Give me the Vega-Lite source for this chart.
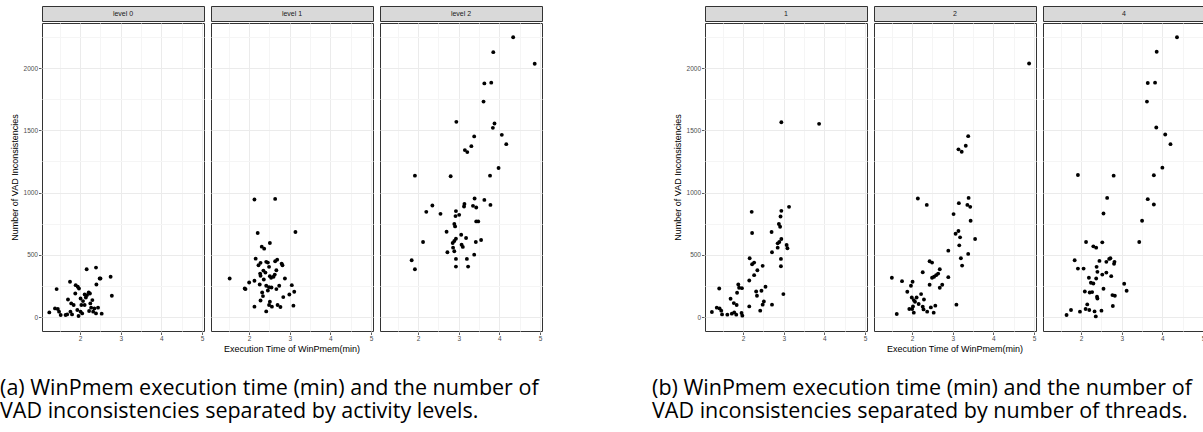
{
  "$schema": "https://vega.github.io/schema/vega-lite/v6.json",
  "background": "white",
  "padding": {"left": 0, "top": 5, "right": 0, "bottom": 0},
  "autosize": {"type": "pad"},
  "datasets": {
    "stripA": [{"panel": "level 0"}, {"panel": "level 1"}, {"panel": "level 2"}],
    "stripB": [{"panel": "1"}, {"panel": "2"}, {"panel": "4"}],
    "a": [
      {"panel":"level 0","time":1.24,"vad":37},{"panel":"level 0","time":1.42,"vad":224},{"panel":"level 0","time":1.38,"vad":69},{"panel":"level 0","time":1.45,"vad":64},{"panel":"level 0","time":1.48,"vad":43},{"panel":"level 0","time":1.52,"vad":16},{"panel":"level 0","time":1.64,"vad":16},{"panel":"level 0","time":1.68,"vad":21},{"panel":"level 0","time":1.70,"vad":141},{"panel":"level 0","time":1.75,"vad":283},{"panel":"level 0","time":1.78,"vad":109},{"panel":"level 0","time":1.76,"vad":43},{"panel":"level 0","time":1.80,"vad":21},{"panel":"level 0","time":1.84,"vad":96},{"panel":"level 0","time":1.88,"vad":189},{"panel":"level 0","time":1.89,"vad":256},{"panel":"level 0","time":1.94,"vad":243},{"panel":"level 0","time":1.97,"vad":229},{"panel":"level 0","time":1.93,"vad":56},{"panel":"level 0","time":1.96,"vad":8},{"panel":"level 0","time":2.01,"vad":43},{"panel":"level 0","time":2.01,"vad":149},{"panel":"level 0","time":2.03,"vad":96},{"panel":"level 0","time":2.07,"vad":128},{"panel":"level 0","time":2.05,"vad":29},{"panel":"level 0","time":2.11,"vad":181},{"panel":"level 0","time":2.11,"vad":96},{"panel":"level 0","time":2.14,"vad":157},{"panel":"level 0","time":2.16,"vad":384},{"panel":"level 0","time":2.17,"vad":176},{"panel":"level 0","time":2.21,"vad":197},{"panel":"level 0","time":2.24,"vad":189},{"panel":"level 0","time":2.22,"vad":48},{"panel":"level 0","time":2.27,"vad":75},{"panel":"level 0","time":2.30,"vad":136},{"panel":"level 0","time":2.32,"vad":43},{"panel":"level 0","time":2.35,"vad":69},{"panel":"level 0","time":2.39,"vad":29},{"panel":"level 0","time":2.39,"vad":397},{"panel":"level 0","time":2.40,"vad":261},{"panel":"level 0","time":2.44,"vad":75},{"panel":"level 0","time":2.48,"vad":309},{"panel":"level 0","time":2.50,"vad":309},{"panel":"level 0","time":2.53,"vad":27},{"panel":"level 0","time":2.75,"vad":323},{"panel":"level 0","time":2.78,"vad":171},{"panel":"level 0","time":2.25,"vad":109},
      {"panel":"level 1","time":2.13,"vad":944},{"panel":"level 1","time":2.64,"vad":949},{"panel":"level 1","time":2.21,"vad":675},{"panel":"level 1","time":3.14,"vad":683},{"panel":"level 1","time":2.51,"vad":595},{"panel":"level 1","time":2.31,"vad":565},{"panel":"level 1","time":2.37,"vad":549},{"panel":"level 1","time":2.16,"vad":469},{"panel":"level 1","time":2.23,"vad":416},{"panel":"level 1","time":2.28,"vad":435},{"panel":"level 1","time":2.42,"vad":443},{"panel":"level 1","time":2.46,"vad":437},{"panel":"level 1","time":2.49,"vad":403},{"panel":"level 1","time":2.64,"vad":448},{"panel":"level 1","time":2.69,"vad":461},{"panel":"level 1","time":2.80,"vad":429},{"panel":"level 1","time":2.82,"vad":416},{"panel":"level 1","time":2.27,"vad":349},{"panel":"level 1","time":2.35,"vad":373},{"panel":"level 1","time":2.40,"vad":357},{"panel":"level 1","time":2.28,"vad":331},{"panel":"level 1","time":2.63,"vad":341},{"panel":"level 1","time":2.67,"vad":376},{"panel":"level 1","time":2.51,"vad":328},{"panel":"level 1","time":2.54,"vad":315},{"panel":"level 1","time":2.60,"vad":323},{"panel":"level 1","time":2.36,"vad":301},{"panel":"level 1","time":2.88,"vad":309},{"panel":"level 1","time":1.52,"vad":309},{"panel":"level 1","time":2.00,"vad":277},{"panel":"level 1","time":2.13,"vad":291},{"panel":"level 1","time":2.26,"vad":261},{"panel":"level 1","time":1.89,"vad":229},{"panel":"level 1","time":1.91,"vad":224},{"panel":"level 1","time":2.42,"vad":251},{"panel":"level 1","time":2.49,"vad":240},{"panel":"level 1","time":2.55,"vad":237},{"panel":"level 1","time":2.67,"vad":224},{"panel":"level 1","time":2.74,"vad":251},{"panel":"level 1","time":2.46,"vad":213},{"panel":"level 1","time":2.32,"vad":197},{"panel":"level 1","time":2.34,"vad":168},{"panel":"level 1","time":3.05,"vad":256},{"panel":"level 1","time":3.11,"vad":203},{"panel":"level 1","time":2.99,"vad":181},{"panel":"level 1","time":2.84,"vad":160},{"panel":"level 1","time":2.28,"vad":133},{"panel":"level 1","time":2.51,"vad":123},{"panel":"level 1","time":2.13,"vad":83},{"panel":"level 1","time":2.49,"vad":96},{"panel":"level 1","time":2.56,"vad":83},{"panel":"level 1","time":2.70,"vad":96},{"panel":"level 1","time":2.77,"vad":80},{"panel":"level 1","time":3.09,"vad":91},{"panel":"level 1","time":2.42,"vad":45},
      {"panel":"level 2","time":4.34,"vad":2248},{"panel":"level 2","time":3.85,"vad":2128},{"panel":"level 2","time":4.87,"vad":2035},{"panel":"level 2","time":3.63,"vad":1877},{"panel":"level 2","time":3.80,"vad":1883},{"panel":"level 2","time":3.61,"vad":1731},{"panel":"level 2","time":2.94,"vad":1568},{"panel":"level 2","time":3.88,"vad":1555},{"panel":"level 2","time":3.84,"vad":1520},{"panel":"level 2","time":4.06,"vad":1464},{"panel":"level 2","time":3.38,"vad":1451},{"panel":"level 2","time":4.17,"vad":1389},{"panel":"level 2","time":3.31,"vad":1373},{"panel":"level 2","time":3.15,"vad":1341},{"panel":"level 2","time":3.21,"vad":1325},{"panel":"level 2","time":3.98,"vad":1197},{"panel":"level 2","time":1.92,"vad":1136},{"panel":"level 2","time":2.80,"vad":1131},{"panel":"level 2","time":3.77,"vad":1136},{"panel":"level 2","time":3.39,"vad":952},{"panel":"level 2","time":3.63,"vad":941},{"panel":"level 2","time":2.35,"vad":896},{"panel":"level 2","time":3.14,"vad":909},{"panel":"level 2","time":3.13,"vad":888},{"panel":"level 2","time":3.35,"vad":893},{"panel":"level 2","time":3.43,"vad":880},{"panel":"level 2","time":3.78,"vad":901},{"panel":"level 2","time":2.20,"vad":845},{"panel":"level 2","time":2.93,"vad":851},{"panel":"level 2","time":2.55,"vad":829},{"panel":"level 2","time":2.92,"vad":811},{"panel":"level 2","time":3.01,"vad":821},{"panel":"level 2","time":3.43,"vad":768},{"panel":"level 2","time":3.48,"vad":768},{"panel":"level 2","time":2.89,"vad":747},{"panel":"level 2","time":2.91,"vad":728},{"panel":"level 2","time":2.70,"vad":685},{"panel":"level 2","time":3.06,"vad":661},{"panel":"level 2","time":3.18,"vad":635},{"panel":"level 2","time":2.93,"vad":629},{"panel":"level 2","time":2.89,"vad":611},{"panel":"level 2","time":3.55,"vad":619},{"panel":"level 2","time":3.42,"vad":603},{"panel":"level 2","time":2.12,"vad":603},{"panel":"level 2","time":2.85,"vad":595},{"panel":"level 2","time":3.07,"vad":581},{"panel":"level 2","time":3.10,"vad":563},{"panel":"level 2","time":2.86,"vad":557},{"panel":"level 2","time":2.89,"vad":528},{"panel":"level 2","time":2.72,"vad":520},{"panel":"level 2","time":3.38,"vad":501},{"panel":"level 2","time":1.84,"vad":456},{"panel":"level 2","time":2.93,"vad":467},{"panel":"level 2","time":3.20,"vad":467},{"panel":"level 2","time":1.92,"vad":384},{"panel":"level 2","time":2.93,"vad":405},{"panel":"level 2","time":3.23,"vad":405}
    ],
    "b": [
      {"panel":"1","time":2.94,"vad":1565},{"panel":"1","time":3.87,"vad":1552},{"panel":"1","time":3.13,"vad":885},{"panel":"1","time":2.21,"vad":845},{"panel":"1","time":2.94,"vad":853},{"panel":"1","time":2.92,"vad":808},{"panel":"1","time":2.88,"vad":747},{"panel":"1","time":2.91,"vad":725},{"panel":"1","time":2.70,"vad":683},{"panel":"1","time":2.22,"vad":675},{"panel":"1","time":2.94,"vad":627},{"panel":"1","time":2.89,"vad":603},{"panel":"1","time":2.85,"vad":592},{"panel":"1","time":3.07,"vad":579},{"panel":"1","time":3.09,"vad":552},{"panel":"1","time":2.85,"vad":557},{"panel":"1","time":2.71,"vad":520},{"panel":"1","time":2.16,"vad":472},{"panel":"1","time":2.93,"vad":467},{"panel":"1","time":2.27,"vad":437},{"panel":"1","time":2.22,"vad":424},{"panel":"1","time":2.48,"vad":411},{"panel":"1","time":2.93,"vad":408},{"panel":"1","time":2.35,"vad":376},{"panel":"1","time":2.27,"vad":336},{"panel":"1","time":2.15,"vad":293},{"panel":"1","time":2.55,"vad":243},{"panel":"1","time":1.88,"vad":261},{"panel":"1","time":1.90,"vad":235},{"panel":"1","time":1.97,"vad":232},{"panel":"1","time":1.41,"vad":229},{"panel":"1","time":1.85,"vad":195},{"panel":"1","time":2.32,"vad":205},{"panel":"1","time":2.34,"vad":171},{"panel":"1","time":2.45,"vad":211},{"panel":"1","time":2.99,"vad":184},{"panel":"1","time":1.69,"vad":147},{"panel":"1","time":1.77,"vad":112},{"panel":"1","time":1.84,"vad":96},{"panel":"1","time":2.51,"vad":125},{"panel":"1","time":2.48,"vad":99},{"panel":"1","time":2.71,"vad":99},{"panel":"1","time":2.15,"vad":85},{"panel":"1","time":1.35,"vad":75},{"panel":"1","time":1.42,"vad":69},{"panel":"1","time":1.46,"vad":51},{"panel":"1","time":1.23,"vad":40},{"panel":"1","time":1.48,"vad":21},{"panel":"1","time":1.61,"vad":19},{"panel":"1","time":1.72,"vad":27},{"panel":"1","time":1.78,"vad":37},{"panel":"1","time":1.83,"vad":19},{"panel":"1","time":1.96,"vad":32},{"panel":"1","time":1.98,"vad":11},{"panel":"1","time":2.42,"vad":51},
      {"panel":"2","time":4.88,"vad":2037},{"panel":"2","time":3.38,"vad":1453},{"panel":"2","time":3.32,"vad":1376},{"panel":"2","time":3.14,"vad":1347},{"panel":"2","time":3.22,"vad":1328},{"panel":"2","time":2.14,"vad":952},{"panel":"2","time":2.36,"vad":901},{"panel":"2","time":3.39,"vad":957},{"panel":"2","time":3.15,"vad":915},{"panel":"2","time":3.36,"vad":901},{"panel":"2","time":3.43,"vad":885},{"panel":"2","time":3.02,"vad":827},{"panel":"2","time":3.44,"vad":773},{"panel":"2","time":3.14,"vad":691},{"panel":"2","time":3.07,"vad":669},{"panel":"2","time":3.18,"vad":640},{"panel":"2","time":3.55,"vad":627},{"panel":"2","time":3.16,"vad":576},{"panel":"2","time":2.89,"vad":533},{"panel":"2","time":3.38,"vad":507},{"panel":"2","time":3.20,"vad":472},{"panel":"2","time":3.23,"vad":413},{"panel":"2","time":2.43,"vad":448},{"panel":"2","time":2.49,"vad":437},{"panel":"2","time":2.68,"vad":384},{"panel":"2","time":2.26,"vad":360},{"panel":"2","time":2.64,"vad":349},{"panel":"2","time":2.59,"vad":336},{"panel":"2","time":2.54,"vad":323},{"panel":"2","time":2.49,"vad":315},{"panel":"2","time":2.89,"vad":320},{"panel":"2","time":1.50,"vad":315},{"panel":"2","time":1.75,"vad":288},{"panel":"2","time":2.01,"vad":283},{"panel":"2","time":1.97,"vad":251},{"panel":"2","time":2.43,"vad":259},{"panel":"2","time":2.74,"vad":259},{"panel":"2","time":2.68,"vad":235},{"panel":"2","time":1.88,"vad":203},{"panel":"2","time":2.22,"vad":184},{"panel":"2","time":1.99,"vad":157},{"panel":"2","time":2.11,"vad":157},{"panel":"2","time":2.04,"vad":136},{"panel":"2","time":2.07,"vad":123},{"panel":"2","time":2.29,"vad":141},{"panel":"2","time":2.16,"vad":104},{"panel":"2","time":2.26,"vad":83},{"panel":"2","time":2.02,"vad":85},{"panel":"2","time":2.00,"vad":64},{"panel":"2","time":1.93,"vad":64},{"panel":"2","time":2.28,"vad":61},{"panel":"2","time":2.37,"vad":43},{"panel":"2","time":2.46,"vad":77},{"panel":"2","time":2.57,"vad":91},{"panel":"2","time":2.53,"vad":35},{"panel":"2","time":2.04,"vad":35},{"panel":"2","time":1.62,"vad":24},{"panel":"2","time":3.09,"vad":99},
      {"panel":"4","time":4.36,"vad":2248},{"panel":"4","time":3.86,"vad":2131},{"panel":"4","time":3.64,"vad":1880},{"panel":"4","time":3.82,"vad":1883},{"panel":"4","time":3.62,"vad":1731},{"panel":"4","time":3.85,"vad":1523},{"panel":"4","time":4.07,"vad":1467},{"panel":"4","time":4.20,"vad":1389},{"panel":"4","time":4.00,"vad":1200},{"panel":"4","time":1.92,"vad":1141},{"panel":"4","time":2.80,"vad":1136},{"panel":"4","time":3.79,"vad":1139},{"panel":"4","time":2.64,"vad":957},{"panel":"4","time":3.64,"vad":947},{"panel":"4","time":3.79,"vad":904},{"panel":"4","time":2.55,"vad":832},{"panel":"4","time":3.50,"vad":773},{"panel":"4","time":2.12,"vad":603},{"panel":"4","time":2.52,"vad":600},{"panel":"4","time":2.30,"vad":568},{"panel":"4","time":2.37,"vad":557},{"panel":"4","time":3.43,"vad":603},{"panel":"4","time":1.84,"vad":456},{"panel":"4","time":2.69,"vad":467},{"panel":"4","time":2.72,"vad":472},{"panel":"4","time":2.45,"vad":451},{"panel":"4","time":2.62,"vad":443},{"panel":"4","time":2.82,"vad":443},{"panel":"4","time":2.81,"vad":427},{"panel":"4","time":2.38,"vad":403},{"panel":"4","time":1.92,"vad":389},{"panel":"4","time":2.06,"vad":389},{"panel":"4","time":2.40,"vad":363},{"panel":"4","time":2.62,"vad":357},{"panel":"4","time":2.52,"vad":341},{"panel":"4","time":2.74,"vad":328},{"panel":"4","time":2.19,"vad":315},{"panel":"4","time":2.37,"vad":309},{"panel":"4","time":2.24,"vad":275},{"panel":"4","time":2.30,"vad":269},{"panel":"4","time":3.06,"vad":267},{"panel":"4","time":2.55,"vad":227},{"panel":"4","time":2.09,"vad":205},{"panel":"4","time":2.21,"vad":197},{"panel":"4","time":2.27,"vad":200},{"panel":"4","time":3.12,"vad":211},{"panel":"4","time":2.39,"vad":163},{"panel":"4","time":2.40,"vad":149},{"panel":"4","time":2.77,"vad":176},{"panel":"4","time":2.83,"vad":171},{"panel":"4","time":2.78,"vad":88},{"panel":"4","time":2.15,"vad":101},{"panel":"4","time":2.11,"vad":64},{"panel":"4","time":2.20,"vad":56},{"panel":"4","time":1.75,"vad":56},{"panel":"4","time":1.97,"vad":43},{"panel":"4","time":2.33,"vad":45},{"panel":"4","time":2.50,"vad":51},{"panel":"4","time":1.64,"vad":16},{"panel":"4","time":2.36,"vad":5}
    ]
  },
  "hconcat": [
    {
      "title": {"text": ["(a) WinPmem execution time (min) and the number of", "VAD inconsistencies separated by activity levels."], "orient": "bottom", "anchor": "start", "dx": -10},
      "spacing": 0,
      "vconcat": [
        {
          "data": {"name": "stripA"},
          "facet": {"column": {"field": "panel", "type": "nominal", "title": null, "header": {"labels": false, "title": null}}},
          "spacing": 5,
          "spec": {
            "width": 162, "height": 15,
            "view": {"fill": "#D9D9D9", "stroke": "#333333", "strokeWidth": 1},
            "mark": {"type": "text", "fontSize": 7, "color": "#1A1A1A", "font": "Liberation Sans"},
            "encoding": {"text": {"field": "panel", "type": "nominal"}}
          }
        },
        {
          "data": {"name": "a"},
          "facet": {"column": {"field": "panel", "type": "nominal", "title": "Execution Time of WinPmem(min)", "header": {"labelExpr": "''", "labelOrient": "bottom", "labelPadding": 0, "labelFontSize": 1, "titleOrient": "bottom"}}},
          "spacing": 5,
          "spec": {
            "width": 162, "height": 308,
            "mark": {"type": "circle", "size": 15, "color": "black", "opacity": 1},
            "encoding": {
              "x": {"field": "time", "type": "quantitative", "title": null, "scale": {"domain": [1.06, 5.05], "nice": false, "zero": false},
                "axis": {"values": [1.5, 2, 2.5, 3, 3.5, 4, 4.5, 5], "labelExpr": "datum.value % 1 === 0 ? '' + datum.value : ''", "gridColor": {"condition": {"test": "datum.value % 1 === 0", "value": "#EBEBEB"}, "value": "#F5F5F5"}, "tickOpacity": {"condition": {"test": "datum.value % 1 === 0", "value": 1}, "value": 0}}},
              "y": {"field": "vad", "type": "quantitative", "title": "Number of VAD Inconsistencies", "scale": {"domain": [-112.5, 2362.5], "nice": false, "zero": false},
                "axis": {"values": [0, 250, 500, 750, 1000, 1250, 1500, 1750, 2000, 2250], "format": "d", "labelExpr": "datum.value % 500 === 0 ? datum.label : ''", "gridColor": {"condition": {"test": "datum.value % 500 === 0", "value": "#EBEBEB"}, "value": "#F5F5F5"}, "tickOpacity": {"condition": {"test": "datum.value % 500 === 0", "value": 1}, "value": 0}}}
            }
          }
        }
      ]
    },
    {
      "title": {"text": ["(b) WinPmem execution time (min) and the number of", "VAD inconsistencies separated by number of threads."], "orient": "bottom", "anchor": "start", "dx": -21},
      "spacing": 0,
      "vconcat": [
        {
          "data": {"name": "stripB"},
          "facet": {"column": {"field": "panel", "type": "nominal", "title": null, "header": {"labels": false, "title": null}}},
          "spacing": 5,
          "spec": {
            "width": 162, "height": 15,
            "view": {"fill": "#D9D9D9", "stroke": "#333333", "strokeWidth": 1},
            "mark": {"type": "text", "fontSize": 7, "color": "#1A1A1A", "font": "Liberation Sans"},
            "encoding": {"text": {"field": "panel", "type": "nominal"}}
          }
        },
        {
          "data": {"name": "b"},
          "facet": {"column": {"field": "panel", "type": "nominal", "title": "Execution Time of WinPmem(min)", "header": {"labelExpr": "''", "labelOrient": "bottom", "labelPadding": 0, "labelFontSize": 1, "titleOrient": "bottom"}}},
          "spacing": 5,
          "spec": {
            "width": 162, "height": 308,
            "mark": {"type": "circle", "size": 15, "color": "black", "opacity": 1},
            "encoding": {
              "x": {"field": "time", "type": "quantitative", "title": null, "scale": {"domain": [1.06, 5.05], "nice": false, "zero": false},
                "axis": {"values": [1.5, 2, 2.5, 3, 3.5, 4, 4.5, 5], "labelExpr": "datum.value % 1 === 0 ? '' + datum.value : ''", "gridColor": {"condition": {"test": "datum.value % 1 === 0", "value": "#EBEBEB"}, "value": "#F5F5F5"}, "tickOpacity": {"condition": {"test": "datum.value % 1 === 0", "value": 1}, "value": 0}}},
              "y": {"field": "vad", "type": "quantitative", "title": "Number of VAD Inconsistencies", "scale": {"domain": [-112.5, 2362.5], "nice": false, "zero": false},
                "axis": {"values": [0, 250, 500, 750, 1000, 1250, 1500, 1750, 2000, 2250], "format": "d", "labelExpr": "datum.value % 500 === 0 ? datum.label : ''", "gridColor": {"condition": {"test": "datum.value % 500 === 0", "value": "#EBEBEB"}, "value": "#F5F5F5"}, "tickOpacity": {"condition": {"test": "datum.value % 500 === 0", "value": 1}, "value": 0}}}
            }
          }
        }
      ]
    }
  ],
  "spacing": 109,
  "config": {
    "view": {"stroke": "#333333", "strokeWidth": 1},
    "axis": {"domain": false, "labelFont": "Liberation Sans", "labelFontSize": 6.5, "labelColor": "#4D4D4D", "labelPadding": 1, "tickColor": "#333333", "tickSize": 2.5, "tickWidth": 0.8, "gridWidth": 1, "titleFont": "Liberation Sans", "titleFontSize": 9, "titleFontWeight": "normal", "titleColor": "#000000", "titlePadding": 4},
    "header": {"titleFont": "Liberation Sans", "titleFontSize": 9, "titleFontWeight": "normal", "titleColor": "#000000", "titlePadding": -8},
    "title": {"font": "Open Sans", "fontSize": 21.5, "fontWeight": "normal", "color": "#000000", "lineHeight": 23, "offset": 24}
  }
}
